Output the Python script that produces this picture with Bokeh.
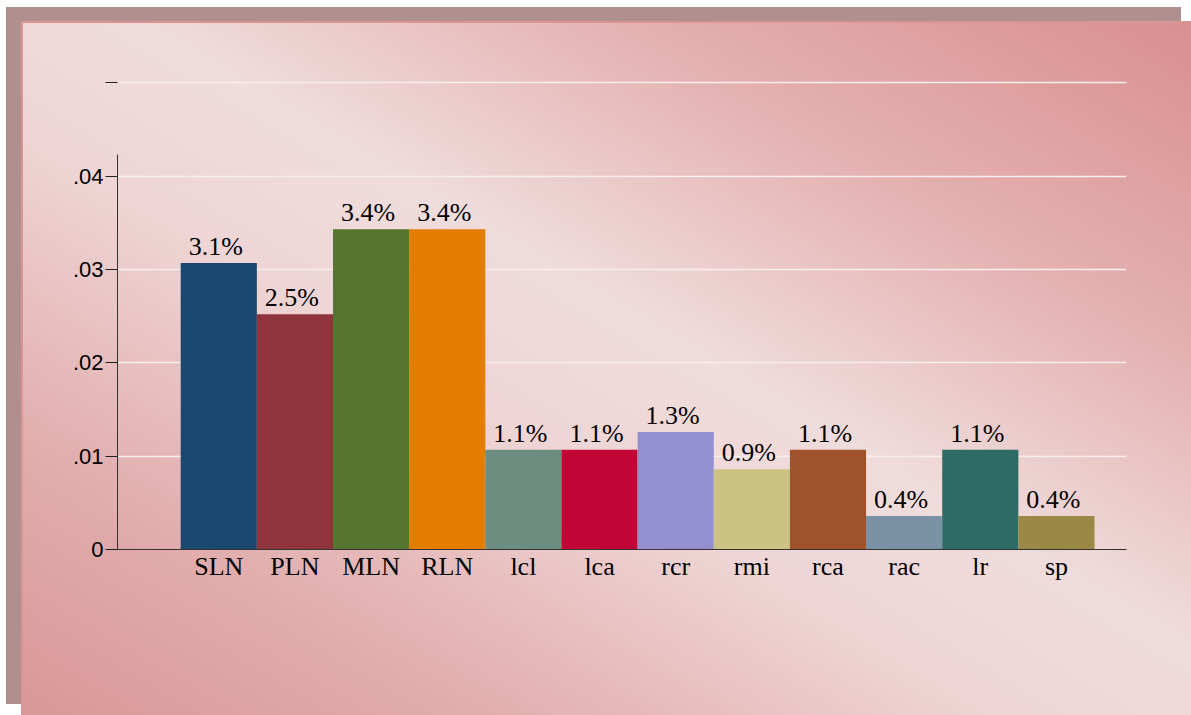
from bokeh.plotting import figure
from bokeh.models import Range1d, FixedTicker, CustomJSTickFormatter, LinearAxis, ColumnDataSource, Grid
from bokeh.core.properties import value
from bokeh.embed import file_html
from bokeh.resources import INLINE

categories = ["SLN", "PLN", "MLN", "RLN", "lcl", "lca", "rcr", "rmi", "rca", "rac", "lr", "sp"]
values = [0.0307, 0.0252, 0.0343, 0.0343, 0.0107, 0.0107, 0.0126, 0.0086, 0.0107, 0.0036, 0.0107, 0.0036]
labels = ["3.1%", "2.5%", "3.4%", "3.4%", "1.1%", "1.1%", "1.3%", "0.9%", "1.1%", "0.4%", "1.1%", "0.4%"]
colors = ["#1b4870", "#8f343d", "#56752f", "#e27d00", "#6d8d80", "#c10535",
          "#9490d0", "#cbc283", "#a0522d", "#7b91a6", "#2e6b65", "#9b8846"]
y_ticks = [0, 0.01, 0.02, 0.03, 0.04, 0.05]

SERIF = "Liberation Serif, Times New Roman, DejaVu Serif, serif"
SANS = "Liberation Sans, Arial, sans-serif"

xs = list(range(len(categories)))
src = ColumnDataSource(dict(x=xs, top=values, label=labels, color=colors))

x_start, x_end = -1.33, 11.92
p = figure(width=1191, height=715, x_range=Range1d(x_start, x_end), y_range=Range1d(0, 0.0525),
           x_axis_type=None, y_axis_type=None, output_backend="svg", toolbar_location=None,
           min_border_left=117, min_border_right=65, min_border_top=59, min_border_bottom=166)
p.border_fill_color = None
p.background_fill_color = None
p.outline_line_color = None
p.styles = {
    "background-image": ("linear-gradient(to top right, #d99797 0%, #e2adad 20%, #efd5d5 42%, #f0dcdc 55%, "
                         "#e4b0b0 76%, #d98f8f 100%), linear-gradient(#da9494, #da9494), "
                         "linear-gradient(#b08f8f, #b08f8f)"),
    "background-position": "23px 23px, 21px 21px, 6px 7px",
    "background-size": "1175px 697px, 1177px 699px, 1175px 697px",
    "background-repeat": "no-repeat",
}

grid = Grid(dimension=1, ticker=FixedTicker(ticks=y_ticks), grid_line_color="#f6eeee", grid_line_width=1.5)
p.add_layout(grid)

p.vbar(x="x", top="top", width=1, fill_color="color", line_color=None, source=src)
p.text(x="x", y="top", text="label", text_align="center", text_baseline="bottom",
       x_offset=-3, y_offset=-2, text_font=value(SERIF), text_font_size="26px",
       text_color="black", source=src)

# innermost: axis line only, limited extent
yline = LinearAxis(ticker=FixedTicker(ticks=[]), formatter=CustomJSTickFormatter(code="return '';"),
                   bounds=(0, 0.0423), major_tick_out=0, major_tick_in=0, minor_tick_out=0, minor_tick_in=0,
                   major_label_standoff=0, axis_line_color="#333333")
p.add_layout(yline, "left")

# tick marks (including the unlabeled top one)
yticks_ax = LinearAxis(ticker=FixedTicker(ticks=y_ticks), formatter=CustomJSTickFormatter(code="return '';"),
                       axis_line_alpha=0, major_tick_out=12, major_tick_in=0, minor_tick_out=0, minor_tick_in=0,
                       major_label_standoff=0, major_tick_line_color="#222222")
p.add_layout(yticks_ax, "left")

# labels
ylab = LinearAxis(ticker=FixedTicker(ticks=y_ticks[:-1]),
                  formatter=CustomJSTickFormatter(code="return tick === 0 ? '0' : tick.toFixed(2).replace(/^0/, '');"),
                  axis_line_alpha=0, major_tick_out=0, major_tick_in=0, minor_tick_out=0, minor_tick_in=0,
                  major_label_text_font=SANS, major_label_text_font_size="22px",
                  major_label_text_color="black", major_label_standoff=2)
p.add_layout(ylab, "left")

xaxis = LinearAxis(ticker=FixedTicker(ticks=xs), major_label_overrides={i: c for i, c in zip(xs, categories)},
                   major_tick_out=0, major_tick_in=0, minor_tick_out=0, minor_tick_in=0,
                   axis_line_color="#333333", major_label_text_font=SERIF,
                   major_label_text_font_size="26px", major_label_text_color="black", major_label_standoff=2)
p.add_layout(xaxis, "below")

open("out.html", "w").write(file_html(p, INLINE))
